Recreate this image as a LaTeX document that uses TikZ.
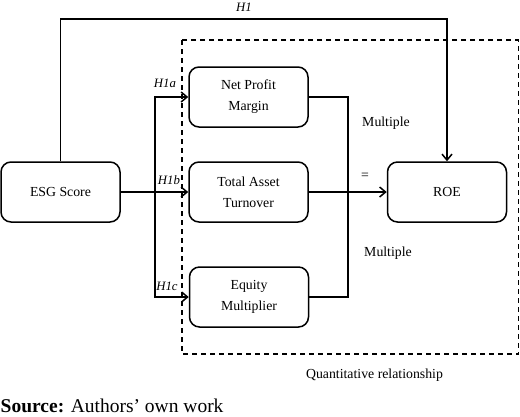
\documentclass[tikz,border=0pt]{standalone}
\usepackage{fontspec}
\setmainfont{Liberation Serif}
\usetikzlibrary{positioning, arrows.meta}

\begin{document}
\begin{tikzpicture}[x=1pt,y=-1pt,line width=1.5pt,>={Straight Barb[length=6pt,width=10pt]},
  box/.style={draw,rounded corners=10pt,minimum width=119pt,minimum height=60pt,align=center,font=\fontsize{13.8}{21}\selectfont},
  hyp/.style={font=\fontsize{12.8}{14}\selectfont\itshape,inner sep=0pt},
  lbl/.style={font=\fontsize{13.8}{16}\selectfont,inner sep=0pt}]
\useasboundingbox (0,0) rectangle (520,416);

\node[box] (esg) at (60.5,192) {ESG Score};
\node[box] (npm) at (248.5,97) {Net Profit\\Margin};
\node[box] (tat) at (248.5,192) {Total Asset\\Turnover};
\node[box] (eqm) at (249,297) {Equity\\Multiplier};
\node[box] (roe) at (447,192) {ROE};

\draw[line width=1.3pt,dash pattern=on 5pt off 4pt] (182,40) rectangle (518.5,354);%le cadre

\coordinate (top) at (0,19);
\coordinate (bus) at (155,0);
\coordinate (join) at (348,0);

\draw[->] (esg.north) -- (esg.north |- top) -| (roe.north);
\draw[->] (esg.east) -- (tat.west);
\draw[->] (esg.east -| bus) |- (npm.west);
\draw[->] (esg.east -| bus) |- (eqm.west);
\draw (npm.east) -| (join |- eqm.east) -- (eqm.east);
\draw[->] (tat.east) -- (roe.west);

\node[hyp] (h1) at (244,7) {H1};
\node[hyp] (h1a) at (165,83) {H1a};
\node[hyp] (h1b) at (169,180) {H1b};
\node[hyp] (h1c) at (167,286) {H1c};

\node[lbl] (mult1) at (386,123) {Multiple};
\node[lbl] (eq) at (365,176) {=};
\node[lbl] (mult2) at (388,253) {Multiple};
\node[lbl] (quant) at (374.5,375) {Quantitative relationship};
\node[font=\fontsize{19.5}{22}\selectfont,inner sep=0pt,anchor=west] (src) at (0,406) {\textbf{Source:} Authors’ own work};
\end{tikzpicture}
\end{document}
